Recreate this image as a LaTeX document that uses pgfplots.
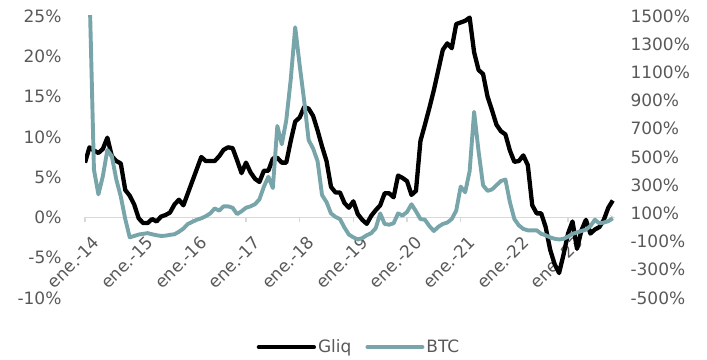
\documentclass[border=0pt]{standalone}
\usepackage{pgfplots}
\pgfplotsset{compat=1.18}
\usepackage{pgfplotstable}
\usepackage{fontspec}
\setmainfont{DejaVu Sans}

\definecolor{btc}{RGB}{120,165,170}
\definecolor{axisgray}{RGB}{217,217,217}
\definecolor{labelgray}{RGB}{89,89,89}

% month index (0 = ene.-14), Gliq yoy (%), BTC yoy (%)
\pgfplotstableread{
m gliq btc
0 6.8 5500
1 8.7 1700
2 8.3 410
3 8.0 235
4 8.5 365
5 9.9 550
6 7.6 505
7 7.0 340
8 6.7 220
9 3.4 60
10 2.7 -70
11 1.6 -60
12 -0.1 -50
13 -0.7 -45
14 -0.7 -40
15 -0.2 -48
16 -0.5 -55
17 0.1 -60
18 0.3 -58
19 0.6 -52
20 1.6 -48
21 2.2 -30
22 1.5 -8
23 3.0 25
24 4.5 40
25 6.0 55
26 7.5 65
27 7.0 80
28 7.0 100
29 7.0 135
30 7.6 120
31 8.4 150
32 8.7 150
33 8.6 140
34 7.1 95
35 5.5 115
36 6.8 140
37 5.6 150
38 4.8 165
39 4.4 200
40 5.8 290
41 5.8 360
42 7.3 280
43 7.4 720
44 6.8 590
45 6.8 760
46 9.5 1050
47 11.9 1420
48 12.4 1150
49 13.7 900
50 13.5 620
51 12.6 560
52 10.8 470
53 8.8 230
54 7.0 180
55 3.8 100
56 3.1 75
57 3.1 60
58 1.8 0
59 1.2 -50
60 2.0 -70
61 0.4 -85
62 -0.3 -75
63 -0.8 -55
64 0.2 -40
65 0.9 -5
66 1.5 100
67 3.0 25
68 3.0 20
69 2.5 30
70 5.2 100
71 4.9 85
72 4.5 110
73 2.8 165
74 3.3 115
75 9.5 60
76 11.5 55
77 13.6 10
78 15.8 -25
79 18.3 5
80 20.8 25
81 21.6 35
82 21.0 60
83 24.0 120
84 24.2 290
85 24.4 250
86 24.8 400
87 20.5 820
88 18.3 540
89 17.8 300
90 15.0 260
91 13.3 270
92 11.5 300
93 10.7 330
94 10.3 340
95 8.3 180
96 6.9 60
97 7.0 15
98 7.7 -10
99 6.5 -20
100 1.5 -20
101 0.5 -20
102 0.5 -45
103 -1.2 -55
104 -4.0 -70
105 -5.8 -80
106 -6.9 -85
107 -4.6 -80
108 -2.0 -65
109 -0.5 -45
110 -3.9 -35
111 -1.6 -25
112 -0.3 -15
113 -2.0 10
114 -1.5 55
115 -1.2 30
116 -0.3 35
117 1.2 45
118 2.1 65
}\datatable

\pgfplotsset{
  common/.style={
    at={(85pt,61pt)}, anchor=south west,
    width=530pt, height=282pt, scale only axis,
    xmin=0, xmax=118.5,
    axis line style={-},
    every tick label/.append style={font=\fontsize{17}{20}\selectfont, text=labelgray},
    hide obscured x ticks=false, hide obscured y ticks=false,
  }
}
\newcommand{\rot}[1]{\rotatebox{45}{#1}}

\begin{document}
\begin{tikzpicture}
% left axis: Gliq
\begin{axis}[common,
  ymin=-10, ymax=25,
  axis x line=middle, axis y line=left,
  y axis line style={draw=none},
  x axis line style={draw=axisgray, line width=1.3pt},
  xtick={0,12,...,108},
  xticklabels={\rot{ene.-14},\rot{ene.-15},\rot{ene.-16},\rot{ene.-17},\rot{ene.-18},\rot{ene.-19},\rot{ene.-20},\rot{ene.-21},\rot{ene.-22},\rot{ene.-23}},
  xtick style={draw=axisgray, line width=1.3pt},
  tick align=outside, major tick length=5pt,
  xticklabel style={anchor=north east, inner sep=0pt, xshift=16pt, yshift=-12.5pt},
  ytick={-10,-5,0,5,10,15,20,25},
  yticklabels={-10\%,-5\%,0\%,5\%,10\%,15\%,20\%,25\%},
  ytick style={draw=none},
  yticklabel style={xshift=-15pt},
]
\addplot[black, line width=4.3pt, line join=round] table[x=m, y=gliq] {\datatable};
\end{axis}
% right axis: BTC
\begin{axis}[common,
  ymin=-500, ymax=1500,
  axis x line=none, axis y line*=right,
  y axis line style={draw=none},
  ytick={-500,-300,...,1500},
  yticklabels={-500\%,-300\%,-100\%,100\%,300\%,500\%,700\%,900\%,1100\%,1300\%,1500\%},
  ytick style={draw=none},
  yticklabel style={xshift=12pt},
  legend columns=2,
  legend style={at={(0.517,-0.174)}, anchor=center, draw=none, fill=none,
    font=\fontsize{17}{20}\selectfont, text=labelgray,
    /tikz/every even column/.append style={column sep=12pt}},
  legend image code/.code={\draw[#1, line cap=round] (0pt,0pt) -- (55pt,0pt);},
]
\addlegendimage{black, line width=4.3pt}
\addlegendentry{Gliq}
\addplot[btc, line width=3.9pt, line join=round] table[x=m, y=btc] {\datatable};
\addlegendentry{BTC}
\end{axis}
\pgfresetboundingbox
\path[use as bounding box] (0,0) rectangle (707pt,359pt);
\end{tikzpicture}
\end{document}
